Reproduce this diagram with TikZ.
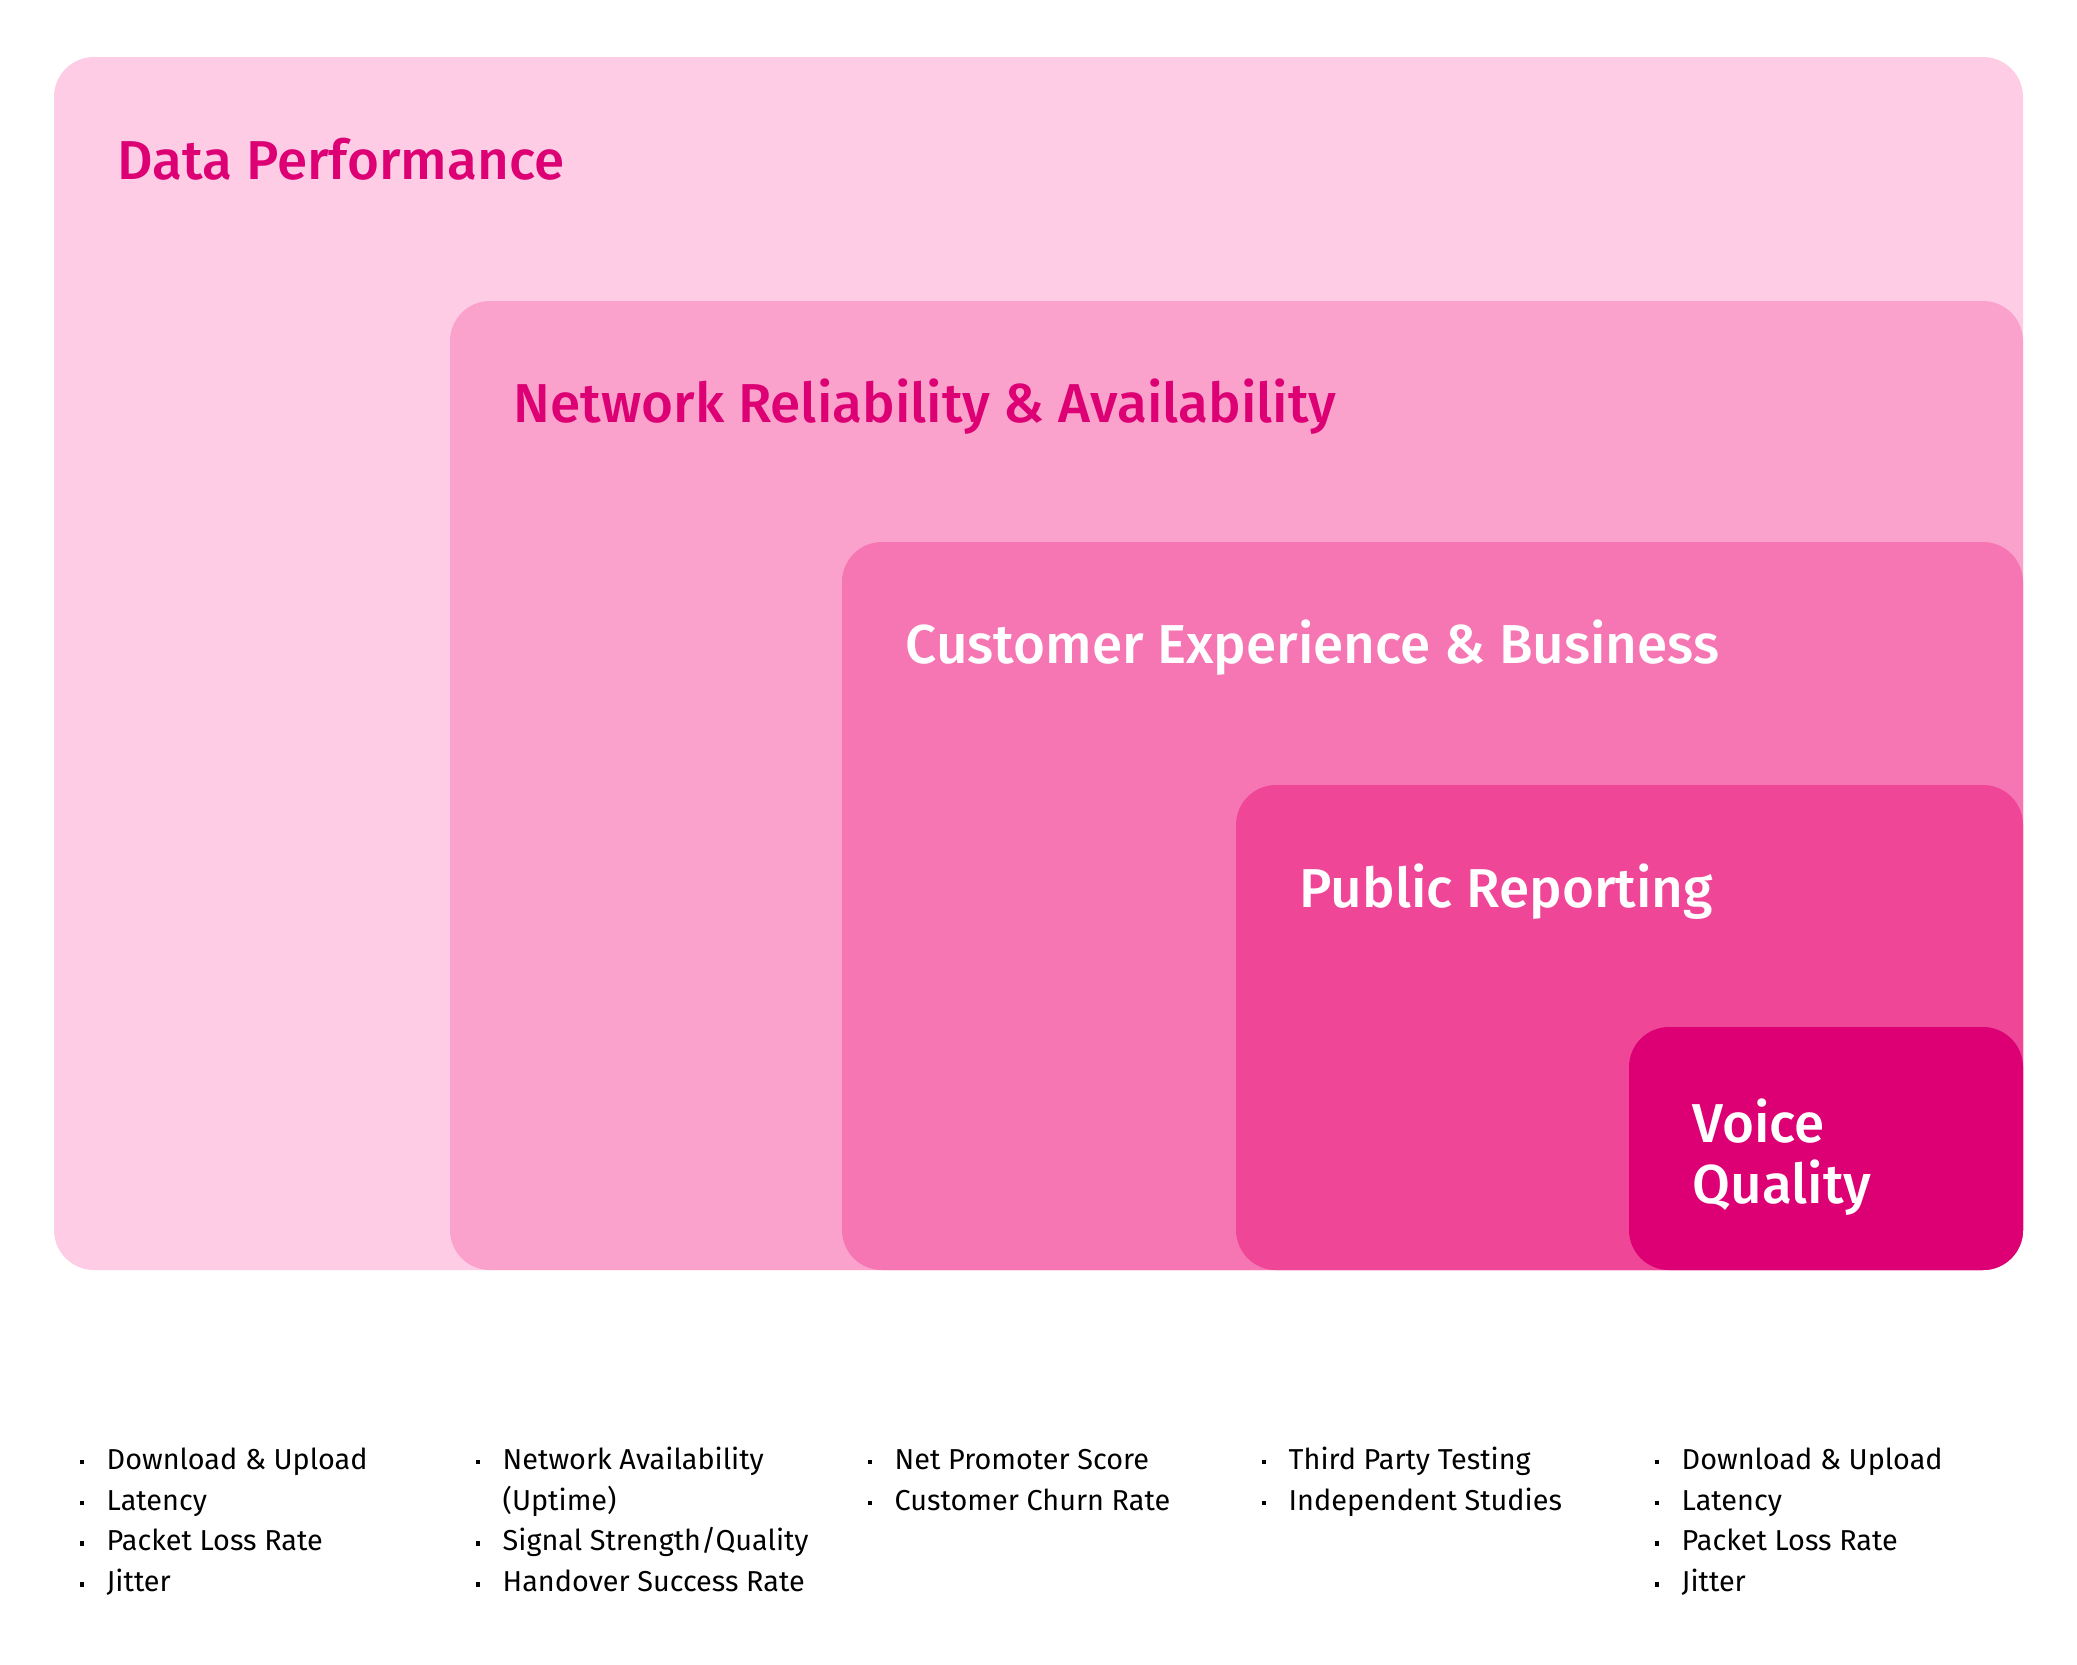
\documentclass[tikz,border=0pt]{standalone}
\usepackage{fontspec}
\setmainfont{Fira Sans}
\newfontfamily\titlefont{Fira Sans Medium}
\usepackage{tikz}
\usetikzlibrary{positioning}

\definecolor{tierA}{RGB}{255,204,229}
\definecolor{tierB}{RGB}{250,162,204}
\definecolor{tierC}{RGB}{245,118,178}
\definecolor{tierD}{RGB}{239,70,152}
\definecolor{tierE}{RGB}{221,0,116}
\definecolor{magenta}{RGB}{221,0,116}

\newcommand{\metricdot}{\makebox[2.7mm][l]{\raisebox{0.32ex}{\rule{0.45mm}{0.45mm}}}}

\tikzset{
  tier/.style={rounded corners=4mm},
  tiertitle/.style={anchor=base west, inner sep=0pt, align=left,
    font=\titlefont\fontsize{15.6}{17.3}\selectfont},
  metrics/.style={anchor=north west, inner sep=0pt,
    font=\fontsize{8.2}{11.6}\selectfont}
}

\begin{document}
\begin{tikzpicture}[x=0.1mm, y=-0.1mm]
    \useasboundingbox (0,0) rectangle (2077,1664);

    % draw the nested tiers
    \fill [tier, tierA] (54,57) rectangle (2023,1270);
    \fill [tier, tierB] (450,301) rectangle (2023,1270);
    \fill [tier, tierC] (842,542) rectangle (2023,1270);
    \fill [tier, tierD] (1236,785) rectangle (2023,1270);
    \fill [tier, tierE] (1629,1027) rectangle (2023,1270);

    % draw the tier titles
    \node [tiertitle, magenta] (dataperf) at (117,179) {Data Performance};
    \node [tiertitle, magenta] (netrel) at (513,422) {Network Reliability \& Availability};
    \node [tiertitle, white] (custexp) at (905,663) {Customer Experience \& Business};
    \node [tiertitle, white] (pubrep) at (1299,907) {Public Reporting};
    \node [tiertitle, white] (voiceq) at (1692,1203) {Voice\\Quality};

    % draw the metrics below each tier
    \node [metrics] (dataperflist) at (79,1440) {%
      \begin{tabular}{@{}l@{}l@{}}
        \metricdot & Download \& Upload\\
        \metricdot & Latency\\
        \metricdot & Packet Loss Rate\\
        \metricdot & Jitter
      \end{tabular}};
    \node [metrics] (netrellist) at (475,1440) {%
      \begin{tabular}{@{}l@{}l@{}}
        \metricdot & Network Availability\\
                   & (Uptime)\\
        \metricdot & Signal Strength/Quality\\
        \metricdot & Handover Success Rate
      \end{tabular}};
    \node [metrics] (custexplist) at (867,1440) {%
      \begin{tabular}{@{}l@{}l@{}}
        \metricdot & Net Promoter Score\\
        \metricdot & Customer Churn Rate
      \end{tabular}};
    \node [metrics] (pubreplist) at (1261,1440) {%
      \begin{tabular}{@{}l@{}l@{}}
        \metricdot & Third Party Testing\\
        \metricdot & Independent Studies
      \end{tabular}};
    \node [metrics] (voiceqlist) at (1654,1440) {%
      \begin{tabular}{@{}l@{}l@{}}
        \metricdot & Download \& Upload\\
        \metricdot & Latency\\
        \metricdot & Packet Loss Rate\\
        \metricdot & Jitter
      \end{tabular}};

  \end{tikzpicture}
\end{document}
